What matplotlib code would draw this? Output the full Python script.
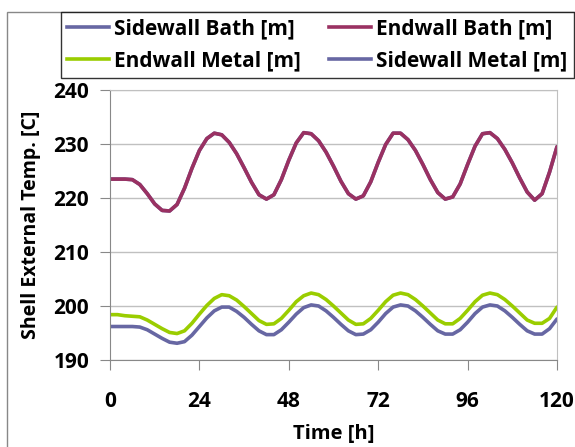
import matplotlib
matplotlib.use("AGG")
import matplotlib.pyplot as plt
import numpy as np
from matplotlib.patches import Rectangle
from matplotlib.lines import Line2D

# time axis, one reading every 2 hours
hours = np.arange(0, 121, 2)

endwall_bath = [223.5, 223.5, 223.5, 223.4, 222.5, 220.8, 218.9, 217.7, 217.6, 218.8,
                221.8, 225.5, 228.8, 231.0, 232.0, 231.7, 230.3, 228.2, 225.6, 222.9,
                220.6, 219.8, 220.6, 223.4, 227.0, 230.2, 232.1, 231.9, 230.6, 228.5,
                225.9, 223.1, 220.8, 219.8, 220.4, 223.0, 226.6, 229.9, 232.0, 232.0,
                230.8, 228.8, 226.2, 223.4, 221.0, 219.8, 220.2, 222.6, 226.2, 229.6,
                231.9, 232.1, 231.0, 229.0, 226.5, 223.7, 221.1, 219.6, 220.8, 224.8,
                229.5]
# sidewall bath sits under the endwall bath curve
sidewall_bath = list(endwall_bath)
endwall_metal = [198.4, 198.4, 198.2, 198.1, 198.0, 197.4, 196.6, 195.8, 195.1, 194.9,
                 195.4, 196.8, 198.5, 200.1, 201.4, 202.1, 201.9, 201.1, 199.9, 198.6,
                 197.3, 196.6, 196.7, 197.7, 199.2, 200.8, 201.9, 202.4, 202.1, 201.2,
                 200.0, 198.7, 197.4, 196.6, 196.7, 197.7, 199.2, 200.8, 202.0, 202.4,
                 202.1, 201.2, 200.0, 198.7, 197.4, 196.7, 196.7, 197.7, 199.2, 200.8,
                 202.0, 202.4, 202.1, 201.2, 200.0, 198.7, 197.4, 196.8, 196.8, 197.7,
                 199.8]
sidewall_metal = [196.2, 196.2, 196.2, 196.2, 196.1, 195.6, 194.8, 194.0, 193.3, 193.1,
                  193.4, 194.6, 196.2, 197.8, 199.1, 199.8, 199.8, 199.0, 197.9, 196.6,
                  195.4, 194.7, 194.7, 195.6, 197.0, 198.5, 199.7, 200.2, 200.0, 199.1,
                  197.9, 196.6, 195.4, 194.7, 194.8, 195.6, 197.0, 198.6, 199.8, 200.2,
                  200.0, 199.1, 197.9, 196.6, 195.4, 194.8, 194.8, 195.6, 197.0, 198.6,
                  199.8, 200.2, 200.0, 199.1, 197.9, 196.6, 195.4, 194.8, 194.8, 195.8,
                  197.6]

labels = ["Sidewall Bath [m]", "Endwall Bath [m]", "Endwall Metal [m]", "Sidewall Metal [m]"]
xticks = [0, 24, 48, 72, 96, 120]
yticks = [190, 200, 210, 220, 230, 240]

blue = "#6767A3"
red = "#9A3162"
green = "#9ACD00"

plt.rcParams["font.family"] = ["Open Sans", "DejaVu Sans"]
plt.rcParams["font.weight"] = "bold"

fig = plt.figure(figsize=(5.75, 4.47), dpi=100)
W, H = 575.0, 447.0
# outer chart frame
fig.patches.append(Rectangle((7 / W, -0.01), 1.0, (447 - 12) / H + 0.01, transform=fig.transFigure,
                             fill=False, edgecolor="#888888", lw=1.0))

ax = fig.add_axes([110 / W, (H - 360) / H, (557 - 110) / W, (360 - 90) / H])
ax.plot(hours, sidewall_bath, color=blue, lw=2.6, solid_capstyle="round")
ax.plot(hours, endwall_bath, color=red, lw=2.6, solid_capstyle="round")
ax.plot(hours, endwall_metal, color=green, lw=2.6, solid_capstyle="round")
ax.plot(hours, sidewall_metal, color=blue, lw=2.6, solid_capstyle="round")

ax.set_xlim(0, 120)
ax.set_ylim(190, 240)
ax.set_xticks(xticks)
ax.set_yticks(yticks)
ax.grid(axis="y", color="#C0C0C0", lw=1.0)
ax.set_axisbelow(True)
for s in ["top", "right"]:
    ax.spines[s].set_color("#C0C0C0")
for s in ["left", "bottom"]:
    ax.spines[s].set_color("#888888")
ax.tick_params(axis="x", direction="out", length=7, color="#888888", pad=15, labelsize=15)
ax.tick_params(axis="y", direction="out", length=7, color="#888888", pad=8, labelsize=15)
ax.set_xlabel("Time [h]", fontsize=14.5, fontweight="bold", labelpad=9)
ax.set_ylabel("Shell External Temp. [C]", fontsize=14, fontweight="bold", labelpad=9)

# legend fills column-wise, so reorder to read row-wise like the original
order = [0, 2, 1, 3]
colors = [blue, red, green, blue]
handles = [Line2D([], [], color=colors[i], lw=2.6) for i in order]
leg = fig.legend(handles, [labels[i] for i in order], ncol=2, loc="upper right",
                 bbox_to_anchor=(574 / W, 1 - 12 / H), fontsize=15,
                 frameon=True, fancybox=False, handlelength=2.0, handletextpad=0.25,
                 columnspacing=1.35, labelspacing=0.5, borderpad=0.32, borderaxespad=0)
leg.get_frame().set_edgecolor("black")
leg.get_frame().set_linewidth(1.0)

fig.savefig("out.png", dpi=100)
